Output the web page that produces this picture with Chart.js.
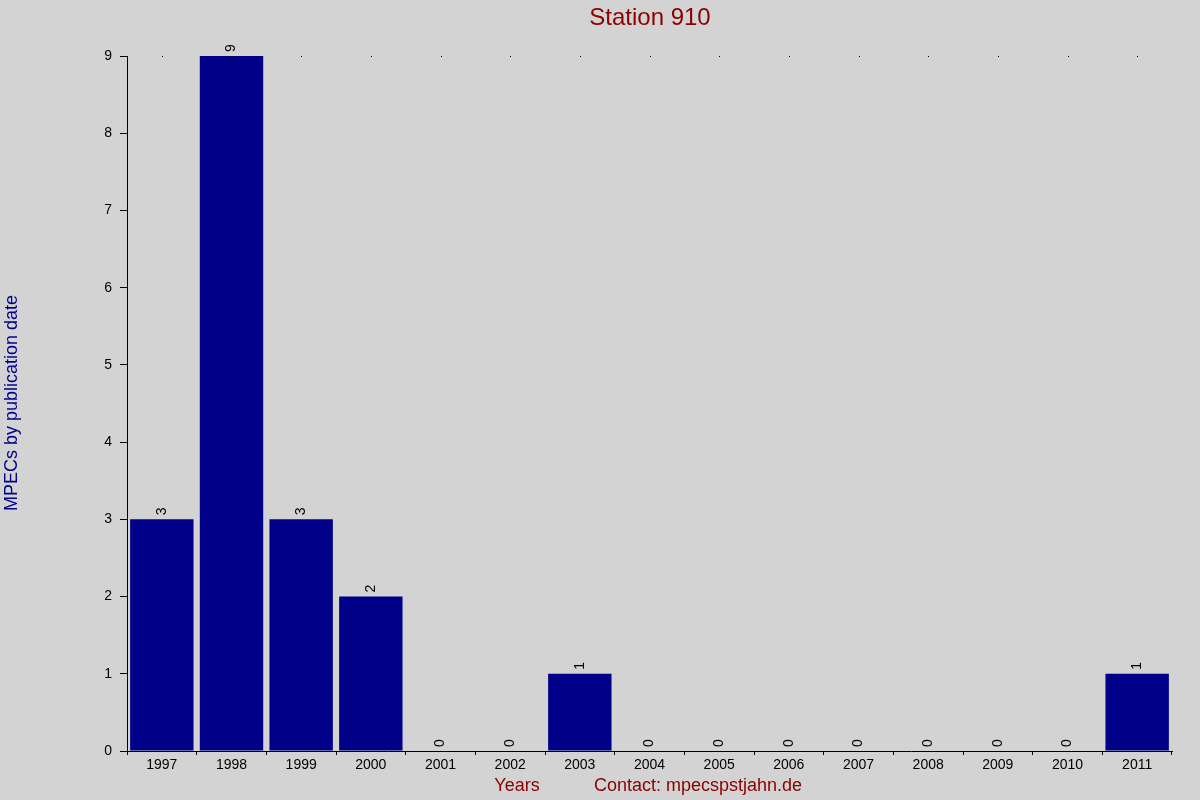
<!DOCTYPE html>
<html>
<head>
<script src="https://cdn.jsdelivr.net/npm/chart.js@4"></script>
<style>
body { margin:0; background:#d3d3d3; }
#wrap { width:1200px; height:800px; }
</style>
</head>
<body>
<div id="wrap"><canvas id="c" width="1200" height="800"></canvas></div>
<script>
const years = ['1997','1998','1999','2000','2001','2002','2003','2004','2005','2006','2007','2008','2009','2010','2011'];
const counts = [3, 9, 3, 2, 0, 0, 1, 0, 0, 0, 0, 0, 0, 0, 1];
const yTicks = [0,1,2,3,4,5,6,7,8,9];

const extras = {
    id: 'extras',
    beforeDraw(chart) {
        const ctx = chart.ctx;
        ctx.save();
        ctx.fillStyle = '#d3d3d3';
        ctx.fillRect(0, 0, chart.width, chart.height);
        ctx.restore();
    },
    afterDraw(chart) {
        const ctx = chart.ctx;
        const xs = chart.scales.x, ys = chart.scales.y;
        ctx.save();
        // title
        ctx.fillStyle = '#8b0000';
        ctx.font = '24px "Liberation Sans", Arial';
        ctx.textAlign = 'center'; ctx.textBaseline = 'middle';
        ctx.fillText('Station 910', 650, 18);
        // bottom texts
        ctx.font = '18px "Liberation Sans", Arial';
        ctx.fillText('Years', 517, 786);
        ctx.fillText('Contact: mpecspstjahn.de', 698, 786);
        // y title
        ctx.fillStyle = '#00008b';
        ctx.translate(12, 403);
        ctx.rotate(-Math.PI / 2);
        ctx.fillText('MPECs by publication date', 0, 0);
        ctx.restore();
        // dots at top & value labels
        ctx.save();
        ctx.fillStyle = '#000';
        ctx.font = '14px "Liberation Sans", Arial';
        counts.forEach((v, i) => {
            const x = xs.getPixelForValue(i);
            ctx.fillRect(Math.round(x), Math.round(ys.getPixelForValue(9)), 1, 1);
            ctx.save();
            ctx.translate(x, ys.getPixelForValue(v) - 4);
            ctx.rotate(-Math.PI / 2);
            ctx.textAlign = 'left'; ctx.textBaseline = 'middle';
            ctx.fillText(String(v), 0, 0);
            ctx.restore();
        });
        ctx.restore();
    }
};

new Chart(document.getElementById('c'), {
    type: 'bar',
    data: {
        labels: years,
        datasets: [{ data: counts, backgroundColor: '#000088', barPercentage: 0.91, categoryPercentage: 1 }]
    },
    options: {
        responsive: false, animation: false,
        layout: { padding: { top: 56, right: 28, left: 0, bottom: 0 } },
        plugins: { legend: { display: false }, tooltip: { enabled: false } },
        scales: {
            x: {
                grid: { drawOnChartArea: false, drawTicks: true, tickLength: 4, color: '#000' },
                border: { color: '#000' },
                ticks: { color: '#000', font: { size: 14, family: '"Liberation Sans", Arial' }, maxRotation: 0, padding: 2 },
                afterFit(s) { s.height = 49; }
            },
            y: {
                min: 0, max: 9,
                afterBuildTicks(s) { s.ticks = yTicks.map(v => ({ value: v })); },
                grid: { drawOnChartArea: false, drawTicks: true, tickLength: 7, color: '#000' },
                border: { color: '#000' },
                ticks: { color: '#000', font: { size: 14, family: '"Liberation Sans", Arial' }, padding: 8 },
                afterFit(s) { s.width = 127; }
            }
        }
    },
    plugins: [extras]
});
</script>
</body>
</html>
